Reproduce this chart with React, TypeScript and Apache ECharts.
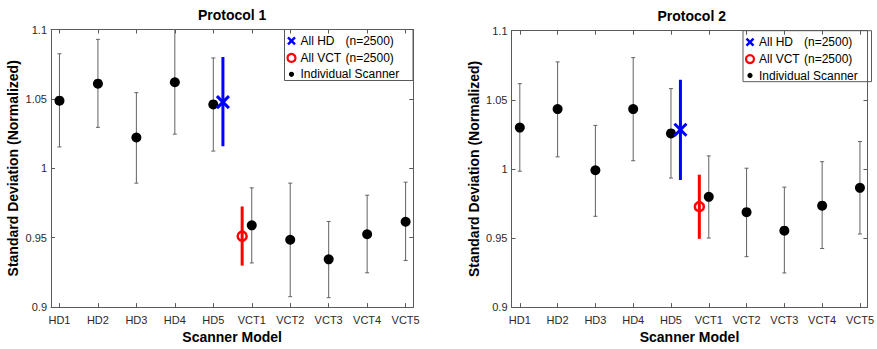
import React, { useEffect, useRef } from 'react';
import * as echarts from 'echarts';

// ---------- data ----------
const categories = ['HD1', 'HD2', 'HD3', 'HD4', 'HD5', 'VCT1', 'VCT2', 'VCT3', 'VCT4', 'VCT5'];
const categoryPos = [1, 2, 3, 4, 5, 6, 7, 8, 9, 10];
const yTicks = [0.9, 0.95, 1, 1.05, 1.1];
const panelTitles = ['Protocol 1', 'Protocol 2'];
const legendLabels = ['All HD', 'All VCT', 'Individual Scanner'];
const legendCounts = ['(n=2500)', '(n=2500)'];

// Protocol 1 individual scanners
const p1Mean = [1.0487, 1.061, 1.0222, 1.062, 1.046, 0.9589, 0.9485, 0.9344, 0.9525, 0.9615];
const p1Low = [1.0154, 1.0295, 0.9893, 1.0246, 1.0124, 0.9318, 0.9075, 0.9068, 0.9247, 0.9336];
const p1High = [1.0825, 1.0929, 1.0545, 1.1, 1.0795, 0.9859, 0.9893, 0.9617, 0.9806, 0.99];
// pooled: [x position, mean, low, high]
const p1AllHD = [5.25, 1.0477, 1.0159, 1.0802];
const p1AllVCT = [5.75, 0.9511, 0.9299, 0.9725];

// Protocol 2 individual scanners
const p2Mean = [1.0299, 1.0433, 0.999, 1.0433, 1.0257, 0.9798, 0.9687, 0.9553, 0.9734, 0.9863];
const p2Low = [0.9983, 1.0087, 0.9657, 1.0059, 0.9934, 0.95, 0.9365, 0.9247, 0.9424, 0.9529];
const p2High = [1.0617, 1.0774, 1.0315, 1.0805, 1.0581, 1.0094, 1.0005, 0.9868, 1.0052, 1.0198];
const p2AllHD = [5.25, 1.0283, 0.992, 1.0645];
const p2AllVCT = [5.75, 0.9727, 0.9494, 0.9958];

// ---------- style ----------
const FONT = "'Liberation Sans', Arial, Helvetica, sans-serif";
const AXIS_COLOR = '#5a5a5a';
const LABEL_COLOR = '#2a2a2a';
const ERR_COLOR = '#626262';
const BLUE = '#0000ff';
const RED = '#ff0000';

const grids = [
  { left: 51, top: 29.5, width: 362.3, height: 283 },
  { left: 511.5, top: 30.7, width: 360.5, height: 283.3 },
];

function errorBars(gi: number, low: number[], high: number[]) {
  return {
    type: 'custom',
    name: 'err' + gi,
    xAxisIndex: gi * 2,
    yAxisIndex: gi * 2,
    data: categoryPos.map((x, i) => [x, low[i], high[i]]),
    renderItem: (_p: any, api: any) => {
      const x = api.value(0);
      const a = api.coord([x, api.value(1)]);
      const b = api.coord([x, api.value(2)]);
      const st = { stroke: ERR_COLOR, lineWidth: 1 };
      const c = 2;
      return {
        type: 'group',
        children: [
          { type: 'line', shape: { x1: a[0], y1: a[1], x2: b[0], y2: b[1] }, style: st },
          { type: 'line', shape: { x1: a[0] - c, y1: a[1], x2: a[0] + c, y2: a[1] }, style: st },
          { type: 'line', shape: { x1: b[0] - c, y1: b[1], x2: b[0] + c, y2: b[1] }, style: st },
        ],
      };
    },
    z: 2,
  };
}

function dots(gi: number, mean: number[]) {
  return {
    type: 'scatter',
    name: 'Individual Scanner',
    xAxisIndex: gi * 2,
    yAxisIndex: gi * 2,
    data: categoryPos.map((x, i) => [x, mean[i]]),
    symbol: 'circle',
    symbolSize: 10,
    itemStyle: { color: '#000', opacity: 1 },
    z: 3,
  };
}

function pooled(gi: number, d: number[], kind: 'x' | 'o') {
  return {
    type: 'custom',
    name: kind === 'x' ? 'All HD' : 'All VCT',
    xAxisIndex: gi * 2,
    yAxisIndex: gi * 2,
    data: [d],
    renderItem: (_p: any, api: any) => {
      const x = api.value(0);
      const m = api.coord([x, api.value(1)]);
      const a = api.coord([x, api.value(2)]);
      const b = api.coord([x, api.value(3)]);
      const color = kind === 'x' ? BLUE : RED;
      const children: any[] = [
        { type: 'line', shape: { x1: a[0], y1: a[1], x2: b[0], y2: b[1] }, style: { stroke: color, lineWidth: 3 } },
      ];
      if (kind === 'x') {
        const h = 6;
        children.push(
          { type: 'line', shape: { x1: m[0] - h, y1: m[1] - h, x2: m[0] + h, y2: m[1] + h }, style: { stroke: color, lineWidth: 3 } },
          { type: 'line', shape: { x1: m[0] - h, y1: m[1] + h, x2: m[0] + h, y2: m[1] - h }, style: { stroke: color, lineWidth: 3 } }
        );
      } else {
        children.push({ type: 'circle', shape: { cx: m[0], cy: m[1], r: 4.5 }, style: { stroke: color, lineWidth: 2.5, fill: 'none' } });
      }
      return { type: 'group', children };
    },
    z: 4,
  };
}

function xAxes(gi: number) {
  const base = {
    type: 'value',
    gridIndex: gi,
    min: 0.78,
    max: 10.2,
    splitLine: { show: false },
    axisLine: { show: true, onZero: false, lineStyle: { color: AXIS_COLOR, width: 1 } },
    axisTick: { show: true, inside: true, length: 4, customValues: categoryPos, lineStyle: { color: AXIS_COLOR } },
  };
  return [
    {
      ...base,
      position: 'bottom',
      name: 'Scanner Model',
      nameLocation: 'middle',
      nameGap: 22,
      nameTextStyle: { fontFamily: FONT, fontWeight: 'bold', fontSize: 14, color: '#000' },
      axisLabel: {
        show: true,
        customValues: categoryPos,
        formatter: (v: number) => categories[Math.round(v) - 1] ?? '',
        fontFamily: FONT,
        fontSize: 11,
        color: LABEL_COLOR,
        margin: 7,
      },
    },
    { ...base, position: 'top', axisLabel: { show: false } },
  ];
}

function yAxes(gi: number) {
  const base = {
    type: 'value',
    gridIndex: gi,
    min: 0.9,
    max: 1.1,
    interval: 0.05,
    splitLine: { show: false },
    axisLine: { show: true, onZero: false, lineStyle: { color: AXIS_COLOR, width: 1 } },
    axisTick: { show: true, inside: true, length: 4, customValues: yTicks, lineStyle: { color: AXIS_COLOR } },
  };
  return [
    {
      ...base,
      position: 'left',
      name: 'Standard Deviation (Normalized)',
      nameLocation: 'middle',
      nameGap: 31,
      nameTextStyle: { fontFamily: FONT, fontWeight: 'bold', fontSize: 14, color: '#000' },
      axisLabel: {
        show: true,
        customValues: yTicks,
        formatter: (v: number) => String(parseFloat(v.toFixed(2))),
        fontFamily: FONT,
        fontSize: 11,
        color: LABEL_COLOR,
        margin: 4,
      },
    },
    { ...base, position: 'right', axisLabel: { show: false } },
  ];
}

function legendBox(x0: number, y0: number) {
  const ts = { fontFamily: FONT, fontSize: 12, fill: '#000', verticalAlign: 'middle' };
  const rows = [11.4, 28.4, 44.8];
  return {
    type: 'group',
    x: x0,
    y: y0,
    z: 100,
    children: [
      { type: 'rect', shape: { x: 0, y: 0, width: 128.5, height: 51 }, style: { fill: '#fff', stroke: AXIS_COLOR, lineWidth: 1 } },
      { type: 'line', shape: { x1: 3.5, y1: rows[0] - 3.5, x2: 10.5, y2: rows[0] + 3.5 }, style: { stroke: BLUE, lineWidth: 2.5 } },
      { type: 'line', shape: { x1: 3.5, y1: rows[0] + 3.5, x2: 10.5, y2: rows[0] - 3.5 }, style: { stroke: BLUE, lineWidth: 2.5 } },
      { type: 'circle', shape: { cx: 7, cy: rows[1], r: 4 }, style: { fill: 'none', stroke: RED, lineWidth: 2.2 } },
      { type: 'circle', shape: { cx: 7, cy: rows[2], r: 2.6 }, style: { fill: '#000' } },
      { type: 'text', x: 16, y: rows[0], style: { ...ts, text: legendLabels[0] } },
      { type: 'text', x: 61, y: rows[0], style: { ...ts, text: legendCounts[0] } },
      { type: 'text', x: 16, y: rows[1], style: { ...ts, text: legendLabels[1] } },
      { type: 'text', x: 61, y: rows[1], style: { ...ts, text: legendCounts[1] } },
      { type: 'text', x: 16, y: rows[2], style: { ...ts, text: legendLabels[2] } },
    ],
  };
}

export default function App() {
  const ref = useRef<HTMLDivElement>(null);
  useEffect(() => {
    if (!ref.current) return;
    const chart = echarts.init(ref.current, undefined, { renderer: 'svg' });
    const option: any = {
      animation: false,
      backgroundColor: '#fff',
      textStyle: { fontFamily: FONT },
      title: grids.map((g, i) => ({
        text: panelTitles[i],
        left: g.left + g.width / 2,
        top: 8 + (i === 1 ? 1 : 0),
        textAlign: 'center',
        padding: 0,
        textStyle: { fontFamily: FONT, fontWeight: 'bold', fontSize: 14, color: '#000' },
      })),
      grid: grids.map((g) => ({ ...g, containLabel: false })),
      xAxis: [...xAxes(0), ...xAxes(1)],
      yAxis: [...yAxes(0), ...yAxes(1)],
      series: [
        errorBars(0, p1Low, p1High),
        dots(0, p1Mean),
        pooled(0, p1AllHD, 'x'),
        pooled(0, p1AllVCT, 'o'),
        errorBars(1, p2Low, p2High),
        dots(1, p2Mean),
        pooled(1, p2AllHD, 'x'),
        pooled(1, p2AllVCT, 'o'),
      ],
      graphic: [legendBox(284.5, 29.5), legendBox(743, 30.7)],
    };
    chart.setOption(option);
    return () => chart.dispose();
  }, []);
  return (
    <div
      ref={ref}
      style={{ position: 'fixed', left: 0, top: 0, width: 877, height: 349, background: '#fff' }}
    />
  );
}
